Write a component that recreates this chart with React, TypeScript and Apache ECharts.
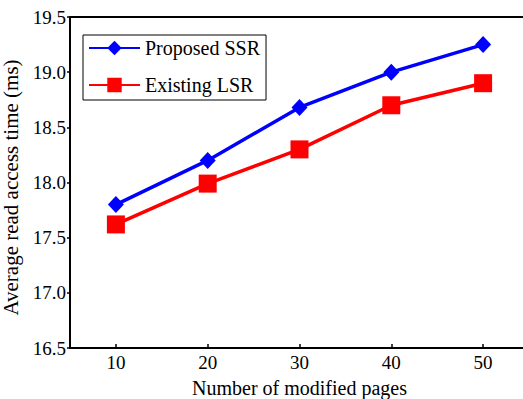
import React, { useEffect, useRef } from "react";
import * as echarts from "echarts";

const pages = [10, 20, 30, 40, 50];
const proposedSSR = [17.8, 18.2, 18.68, 19.0, 19.25];
const existingLSR = [17.62, 17.99, 18.3, 18.7, 18.9];
const xTicks = [10, 20, 30, 40, 50];

const FONT = "'Liberation Serif', 'Times New Roman', serif";

export default function App() {
  const ref = useRef<HTMLDivElement>(null);

  useEffect(() => {
    if (!ref.current) return;
    document.body.style.margin = "0";
    document.body.style.overflow = "hidden";
    const chart = echarts.init(ref.current, undefined, { renderer: "svg" });
    chart.setOption({
      animation: false,
      backgroundColor: "#fff",
      grid: { left: 70, right: -6, top: 17, bottom: 51, containLabel: false, outerBoundsMode: "none" },
      legend: {
        orient: "vertical",
        left: 83,
        top: 35,
        padding: [3, 6, 5, 5],
        itemGap: 17,
        itemWidth: 51,
        itemHeight: 18,
        borderColor: "#000",
        borderWidth: 1,
        textStyle: { fontFamily: FONT, fontSize: 20, color: "#000" },
        data: ["Proposed SSR", "Existing LSR"],
      },
      xAxis: {
        type: "value",
        min: 5,
        max: 55,
        name: "Number of modified pages",
        nameLocation: "middle",
        nameGap: 30,
        nameTextStyle: { fontFamily: FONT, fontSize: 20, color: "#000" },
        axisLine: { show: true, onZero: false, lineStyle: { color: "#000", width: 2 } },
        axisTick: {
          show: true,
          inside: true,
          length: 4,
          customValues: xTicks,
          lineStyle: { color: "#000", width: 1.5 },
        },
        axisLabel: {
          fontFamily: FONT,
          fontSize: 19,
          color: "#000",
          margin: 5,
          customValues: xTicks,
        },
        splitLine: { show: false },
      },
      yAxis: {
        type: "value",
        min: 16.5,
        max: 19.5,
        interval: 0.5,
        name: "Average read access time (ms)",
        nameLocation: "middle",
        nameGap: 42,
        nameTextStyle: { fontFamily: FONT, fontSize: 21, color: "#000", padding: [0, 10, 0, 0] },
        axisLine: { show: true, lineStyle: { color: "#000", width: 2 } },
        axisTick: { show: true, inside: false, length: 3, lineStyle: { color: "#000", width: 1.5 } },
        axisLabel: {
          fontFamily: FONT,
          fontSize: 19,
          color: "#000",
          margin: 4,
          formatter: (v: number) => v.toFixed(1),
        },
        splitLine: { show: false },
      },
      graphic: [
        {
          type: "line",
          shape: { x1: 70, y1: 17, x2: 523, y2: 17 },
          style: { stroke: "#000", lineWidth: 2 },
          silent: true,
        },
      ],
      series: [
        {
          name: "Proposed SSR",
          type: "line",
          data: pages.map((p, i) => [p, proposedSSR[i]]),
          color: "#0000ff",
          lineStyle: { width: 3.5, color: "#0000ff" },
          symbol: "diamond",
          symbolSize: [16, 17],
          itemStyle: { color: "#0000ff" },
        },
        {
          name: "Existing LSR",
          type: "line",
          data: pages.map((p, i) => [p, existingLSR[i]]),
          color: "#ff0000",
          lineStyle: { width: 3.5, color: "#ff0000" },
          symbol: "rect",
          symbolSize: 18,
          itemStyle: { color: "#ff0000" },
        },
      ],
    });
    return () => chart.dispose();
  }, []);

  return <div ref={ref} style={{ width: 523, height: 399 }} />;
}
